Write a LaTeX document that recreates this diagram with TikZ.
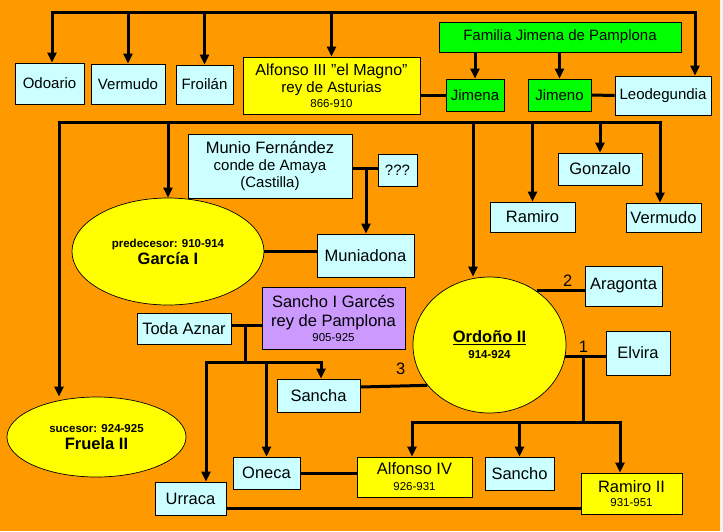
\documentclass[tikz,border=0pt]{standalone}
\usepackage{fontspec}
\setmainfont{Liberation Sans}
\usetikzlibrary{arrows.meta,shapes.geometric}

\definecolor{naranja}{HTML}{FF9900}
\definecolor{celeste}{HTML}{CCFFFF}
\definecolor{amarillo}{HTML}{FFFF00}
\definecolor{verde}{HTML}{00FF00}
\definecolor{lila}{HTML}{CC99FF}
\definecolor{margen}{HTML}{F2F2F2}

\newcommand{\chico}{\fontsize{11.5}{13}\selectfont}
\newcommand{\medio}{\fontsize{15}{17}\selectfont}
\newcommand{\grande}{\fontsize{16.5}{19}\selectfont}

\tikzset{
  medida/.style 2 args={minimum width=#1pt,minimum height=#2pt},
  linea/.style={draw=black,line width=3pt},
  flecha/.style={linea,-{Triangle[length=10pt,width=9pt]}},
  doble/.style={linea,{Triangle[length=10pt,width=9pt]}-{Triangle[length=10pt,width=9pt]}},
}

\begin{document}
\begin{tikzpicture}[x=1pt,y=-1pt]
  \useasboundingbox (0,0) rectangle (723,531);
  \fill[naranja] (0,0) rectangle (723,531);
  \fill[margen] (720,0) rectangle (723,531);

  \begin{scope}[every node/.style={rectangle,draw=black,line width=0.7pt,fill=celeste,inner sep=0pt,align=center,font=\medio}]
    % hermanos y padres
    \node[medida={69}{41}] (odoario) at (49.5,83.5) {Odoario};
    \node[medida={74}{40}] (vermudoA) at (128,84) {Vermudo};
    \node[medida={57}{39}] (froilan) at (204.5,84.5) {Froilán};
    \node[medida={177}{57},fill=amarillo] (alfonsoIII) at (331.5,85.5) {{\fontsize{16}{18}\selectfont Alfonso III "el Magno"}\\rey de Asturias\\[-2pt]{\chico 866-910}};
    \node[medida={242}{30},fill=verde] (familia) at (560,37) {Familia Jimena de Pamplona};
    \node[medida={58}{32},fill=verde] (jimena) at (475,95) {Jimena};
    \node[medida={63}{32},fill=verde] (jimeno) at (559.5,95) {Jimeno};
    \node[medida={96}{39}] (leodegundia) at (663,95.5) {Leodegundia};
    % hijos de Alfonso III
    \node[medida={164}{64}] (munio) at (270,166) {{\grande Munio Fernández}\\conde de Amaya\\(Castilla)};
    \node[medida={39}{32}] (ignoto) at (397.5,170) {???};
    \node[medida={97}{43},font=\grande] (muniadona) at (365.5,255.5) {Muniadona};
    \node[medida={85}{30},font=\grande] (ramiro) at (532.5,217) {Ramiro};
    \node[medida={84}{32},font=\grande] (gonzalo) at (600,169) {Gonzalo};
    \node[medida={75}{29},font=\grande] (vermudoB) at (663.5,217.5) {Vermudo};
    \node[medida={77}{40},font=\grande] (aragonta) at (623.5,286) {Aragonta};
    \node[medida={64}{44},font=\grande] (elvira) at (638,353) {Elvira};
    % Pamplona
    \node[medida={94}{31},font=\grande] (toda) at (184,328.5) {Toda Aznar};
    \node[medida={143}{62},fill=lila,font=\grande] (sanchoI) at (333.5,318) {Sancho I Garcés\\rey de Pamplona\\[-4pt]{\chico 905-925}};
    \node[medida={83}{33},font=\grande] (sancha) at (318.5,395.5) {Sancha};
    \node[medida={67}{32},font=\grande] (oneca) at (266.5,473) {Oneca};
    \node[medida={71}{33},font=\grande] (urraca) at (190.5,498.5) {Urraca};
    % hijos de Ordoño II
    \node[medida={115}{40},fill=amarillo,font=\grande] (alfonsoIV) at (414.5,477) {Alfonso IV\\[-3pt]{\chico 926-931}};
    \node[medida={69}{33},font=\grande] (sancho) at (519.5,473.5) {Sancho};
    \node[medida={101}{41},fill=amarillo,font=\grande] (ramiroII) at (631.5,493.5) {Ramiro II\\[-5pt]{\chico 931-951}};
  \end{scope}

  \begin{scope}[every node/.style={ellipse,draw=black,line width=0.7pt,fill=amarillo,inner sep=0pt,align=center,font=\grande}]
    \node[medida={192}{107}] (garcia) at (168,251.5) {{\chico\bfseries predecesor: 910-914}\\[-2pt]{\bfseries García I}};
    \node[medida={153}{136}] (ordono) at (489.5,345) {{\bfseries\underline{Ordoño II}}\\[-3pt]{\chico\bfseries 914-924}};
    \node[medida={179}{80}] (fruela) at (96.5,437) {{\chico\bfseries sucesor: 924-925}\\[-2.5pt]{\bfseries Fruela II}};
  \end{scope}

  \begin{scope}[every edge/.style={linea}]
    % hijos de Fruela I
    \coordinate (hijosA) at (52,12);
    \coordinate (hijosB) at (695,12);
    \draw[doble] (hijosA |- odoario.north) -- (hijosA) -- (hijosB) -- (hijosB |- leodegundia.north);
    \path (vermudoA.north |- hijosA) edge[flecha] (vermudoA.north)
          (froilan.north |- hijosA) edge[flecha] (froilan.north)
          (alfonsoIII.north |- hijosA) edge[flecha] (alfonsoIII.north)
          (familia.south -| jimena.north) edge[flecha] (jimena.north)
          (familia.south -| jimeno.north) edge[flecha] (jimeno.north);
    \path ([yshift=-9.5pt]alfonsoIII.east) edge (jimena.west)
          (jimeno.east) edge (leodegundia.west);

    % hijos de Alfonso III
    \coordinate (hijosC) at (59,122);
    \coordinate (hijosD) at (660,122);
    \coordinate (hijosO) at (473,122);
    \draw[doble] (hijosC |- fruela.north) -- (hijosC) -- (hijosD) -- (hijosD |- vermudoB.north);
    \path (garcia.north |- hijosC) edge[flecha] (garcia.north)
          (hijosO) edge[flecha] (hijosO |- ordono.north)
          (ramiro.north |- hijosC) edge[flecha] (ramiro.north)
          (gonzalo.north |- hijosC) edge[flecha] (gonzalo.north);

    % Munio y Muniadona
    \coordinate (boda2) at (366,168);
    \path (munio.east |- boda2) edge (boda2 -| ignoto.west)
          (garcia.east) edge (garcia.east -| muniadona.west)
          (boda2) edge[flecha] (boda2 |- muniadona.north);

    % esposas de Ordoño II
    \path (ordono.49) edge node[above,pos=.65,font=\grande] {2} (ordono.49 -| aragonta.west)
          (ordono.-9) edge node[above,pos=.45,font=\grande] {1} (ordono.-9 -| elvira.west)
          ([yshift=8.5pt]sancha.east) edge node[above=6pt,pos=.6,font=\grande] {3} (ordono.213);

    % hijos de Ordoño II y Elvira
    \coordinate (boda1) at (583,358);
    \coordinate (hijosE) at (412,422);
    \coordinate (hijosF) at (620,422);
    \draw[linea] (boda1) -- (boda1 |- hijosE);
    \draw[doble] (hijosE |- alfonsoIV.north) -- (hijosE) -- (hijosF) -- (hijosF |- ramiroII.north);
    \path (sancho.north |- hijosE) edge[flecha] (sancho.north);

    % hijos de Sancho I
    \coordinate (boda3) at (245,325);
    \coordinate (hijosG) at (206,362);
    \coordinate (hijosH) at (321,362);
    \path ([yshift=3.5pt]toda.east) edge ([yshift=3.5pt]toda.east -| sanchoI.west);
    \draw[linea] (boda3) -- (boda3 |- hijosG);
    \draw[doble] (hijosG |- urraca.north) -- (hijosG) -- (hijosH) -- (hijosH |- sancha.north);
    \path (oneca.north |- hijosG) edge[flecha] (oneca.north)
          (oneca.east) edge (oneca.east -| alfonsoIV.west)
          ([yshift=-9.5pt]urraca.east) edge ([yshift=-9.5pt]urraca.east -| ramiroII.west);
  \end{scope}
\end{tikzpicture}
\end{document}
